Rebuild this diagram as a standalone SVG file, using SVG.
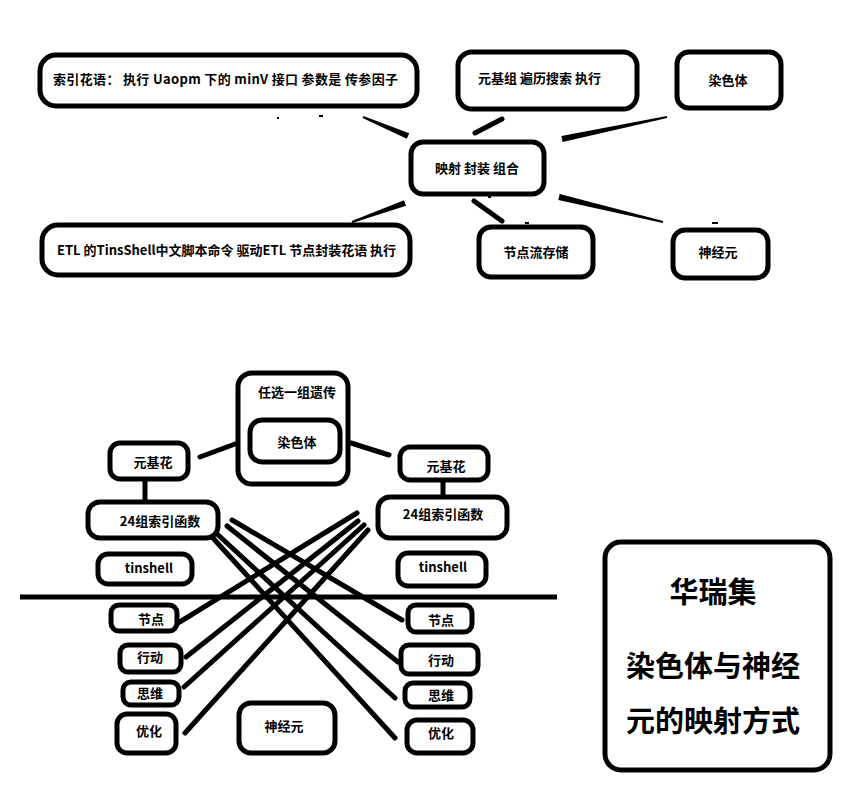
<svg xmlns="http://www.w3.org/2000/svg" width="850" height="811" viewBox="0 0 850 811">
  <style>
    .box { fill: #fff; stroke: #000; stroke-width: 5; }
    .lbl { font-family: "Noto Sans CJK SC", "Liberation Sans", sans-serif; font-size: 13px; font-weight: bold; fill: #000; }
    .mid { text-anchor: middle; }
    .title { font-family: "Noto Sans CJK SC", "Liberation Sans", sans-serif; font-size: 29px; font-weight: bold; fill: #000; text-anchor: middle; }
    .wire { stroke: #000; stroke-width: 5; fill: none; stroke-linecap: round; }
    .taper { fill: #000; }
  </style>
  <rect width="850" height="811" fill="#fff"/>

  <!-- connectors -->
  <g id="connectors">
    <!-- upper map around the central node -->
    <polygon class="taper" points="363.4,116.1 409.2,133.2 406.8,138.8 362.6,117.9"/>
    <polygon class="taper" points="351.7,221.1 404,200.2 406,205.8 352.3,222.9"/>
    <polygon class="taper" points="561.4,136.1 666.8,116 667.2,118 562.6,141.9"/>
    <polygon class="taper" points="559.7,194.1 663.2,221 662.8,223 558.3,199.9"/>
    <line class="wire" x1="475" y1="133" x2="502" y2="119"/>
    <line class="wire" x1="474" y1="201" x2="502" y2="221"/>
    <!-- stray specks -->
    <rect x="277" y="117" width="2" height="2" fill="#000"/>
    <rect x="319" y="115" width="4" height="2" fill="#000"/>
    <rect x="488" y="196" width="3" height="2" fill="#000"/>
    <rect x="525" y="222" width="4" height="2" fill="#000"/>
    <rect x="712" y="222" width="6" height="2" fill="#000"/>

    <!-- lower tree -->
    <line class="wire" x1="200" y1="457" x2="235" y2="444"/>
    <line class="wire" x1="351" y1="443" x2="389" y2="455"/>
    <line class="wire" x1="145" y1="481" x2="145" y2="499"/>
    <line class="wire" x1="443" y1="482" x2="443" y2="494"/>
    <line x1="20" y1="597" x2="557" y2="597" stroke="#000" stroke-width="5"/>

    <!-- left index set to right side -->
    <line class="wire" x1="232" y1="520" x2="402" y2="620"/>
    <line class="wire" x1="227" y1="526" x2="398" y2="662"/>
    <line class="wire" x1="216" y1="533" x2="395" y2="698"/>
    <line class="wire" x1="212" y1="537" x2="395" y2="738"/>
    <!-- right index set to left side -->
    <line class="wire" x1="357" y1="513" x2="178" y2="623"/>
    <line class="wire" x1="358" y1="521" x2="186" y2="657"/>
    <line class="wire" x1="364" y1="525" x2="184" y2="687"/>
    <line class="wire" x1="368" y1="530" x2="185" y2="733"/>
  </g>

  <!-- upper map -->
  <g id="n-suoyin">
    <rect class="box" x="40" y="55" width="377" height="51" rx="16"/>
    <text class="lbl" x="53" y="84" textLength="345" lengthAdjust="spacing">索引花语： 执行 Uaopm 下的 minV 接口 参数是 传参因子</text>
  </g>
  <g id="n-yuanjizu">
    <rect class="box" x="458" y="52" width="179" height="57" rx="14"/>
    <text class="lbl" x="478" y="83">元基组 遍历搜索 执行</text>
  </g>
  <g id="n-ranseti-top">
    <rect class="box" x="677" y="52" width="104" height="56" rx="12"/>
    <text class="lbl mid" x="728" y="85">染色体</text>
  </g>
  <g id="n-yingshe">
    <rect class="box" x="411" y="142" width="133" height="52" rx="12"/>
    <text class="lbl" x="435" y="173">映射 封装 组合</text>
  </g>
  <g id="n-etl">
    <rect class="box" x="42" y="225" width="368" height="50" rx="16"/>
    <text class="lbl" x="57" y="255">ETL 的TinsShell中文脚本命令 驱动ETL 节点封装花语 执行</text>
  </g>
  <g id="n-jiedianliu">
    <rect class="box" x="479" y="227" width="114" height="50" rx="12"/>
    <text class="lbl mid" x="536" y="257">节点流存储</text>
  </g>
  <g id="n-shenjingyuan-top">
    <rect class="box" x="673" y="230" width="95" height="48" rx="12"/>
    <text class="lbl mid" x="718" y="257">神经元</text>
  </g>

  <!-- lower tree -->
  <g id="n-renxuan">
    <rect class="box" x="238" y="373" width="110" height="111" rx="14"/>
    <text class="lbl mid" x="297" y="397">任选一组遗传</text>
  </g>
  <g id="n-ranseti-inner">
    <rect class="box" x="250" y="420" width="90" height="42" rx="12"/>
    <text class="lbl mid" x="297" y="447">染色体</text>
  </g>
  <g id="n-yuanjihua-l">
    <rect class="box" x="110" y="443" width="78" height="36" rx="10"/>
    <text class="lbl mid" x="153" y="467">元基花</text>
  </g>
  <g id="n-yuanjihua-r">
    <rect class="box" x="400" y="447" width="88" height="33" rx="10"/>
    <text class="lbl mid" x="446" y="471">元基花</text>
  </g>
  <g id="n-suoyin24-l">
    <rect class="box" x="88" y="502" width="130" height="36" rx="12"/>
    <text class="lbl mid" x="160" y="526">24组索引函数</text>
  </g>
  <g id="n-suoyin24-r">
    <rect class="box" x="378" y="497" width="129" height="41" rx="12"/>
    <text class="lbl mid" x="443" y="519">24组索引函数</text>
  </g>
  <g id="n-tinshell-l">
    <rect class="box" x="98" y="554" width="94" height="30" rx="10"/>
    <text class="lbl mid" x="149" y="573">tinshell</text>
  </g>
  <g id="n-tinshell-r">
    <rect class="box" x="398" y="553" width="88" height="33" rx="10"/>
    <text class="lbl mid" x="443" y="572">tinshell</text>
  </g>
  <g id="n-jiedian-l">
    <rect class="box" x="111" y="605" width="66" height="26" rx="8"/>
    <text class="lbl mid" x="151" y="624">节点</text>
  </g>
  <g id="n-xingdong-l">
    <rect class="box" x="120" y="645" width="61" height="27" rx="8"/>
    <text class="lbl mid" x="150" y="662">行动</text>
  </g>
  <g id="n-siwei-l">
    <rect class="box" x="123" y="682" width="56" height="23" rx="8"/>
    <text class="lbl mid" x="150" y="698">思维</text>
  </g>
  <g id="n-youhua-l">
    <rect class="box" x="117" y="714" width="59" height="39" rx="10"/>
    <text class="lbl mid" x="149" y="736">优化</text>
  </g>
  <g id="n-shenjingyuan-bottom">
    <rect class="box" x="239" y="703" width="96" height="50" rx="12"/>
    <text class="lbl mid" x="284" y="731">神经元</text>
  </g>
  <g id="n-jiedian-r">
    <rect class="box" x="408" y="605" width="64" height="27" rx="8"/>
    <text class="lbl mid" x="441" y="625">节点</text>
  </g>
  <g id="n-xingdong-r">
    <rect class="box" x="401" y="645" width="77" height="29" rx="8"/>
    <text class="lbl mid" x="441" y="665">行动</text>
  </g>
  <g id="n-siwei-r">
    <rect class="box" x="405" y="683" width="65" height="24" rx="8"/>
    <text class="lbl mid" x="441" y="700">思维</text>
  </g>
  <g id="n-youhua-r">
    <rect class="box" x="407" y="720" width="66" height="33" rx="10"/>
    <text class="lbl mid" x="441" y="738">优化</text>
  </g>

  <!-- title card -->
  <g id="n-title">
    <rect class="box" x="605" y="542" width="225" height="228" rx="16"/>
    <text class="title" x="713" y="603">华瑞集</text>
    <text class="title" x="713" y="677">染色体与神经</text>
    <text class="title" x="713" y="732">元的映射方式</text>
  </g>
</svg>
